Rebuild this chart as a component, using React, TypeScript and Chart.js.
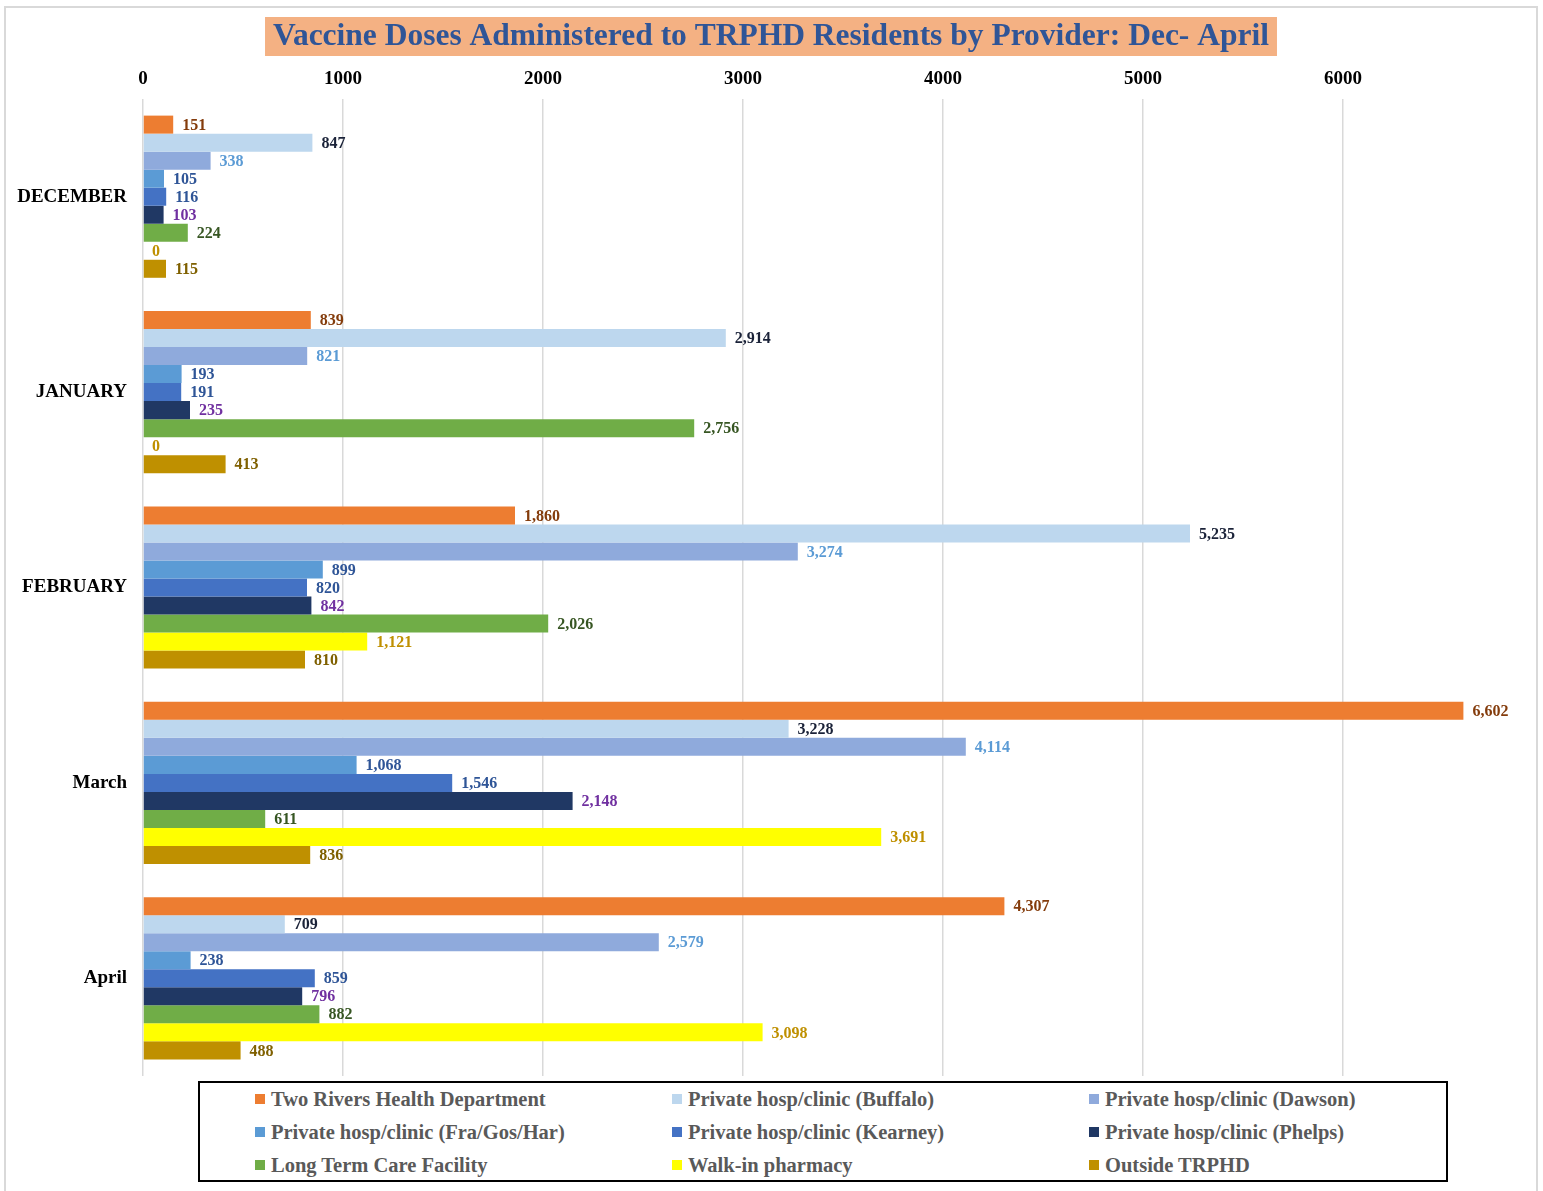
import React, { useEffect, useRef } from "react";
import { Chart, registerables } from "chart.js";

Chart.register(...registerables);

const categories = ["DECEMBER", "JANUARY", "FEBRUARY", "March", "April"];
const seriesNames = [
  "Two Rivers Health Department",
  "Private hosp/clinic (Buffalo)",
  "Private hosp/clinic (Dawson)",
  "Private hosp/clinic (Fra/Gos/Har)",
  "Private hosp/clinic (Kearney)",
  "Private hosp/clinic (Phelps)",
  "Long Term Care Facility",
  "Walk-in pharmacy",
  "Outside TRPHD",
];
const twoRivers = [151, 839, 1860, 6602, 4307];
const buffalo = [847, 2914, 5235, 3228, 709];
const dawson = [338, 821, 3274, 4114, 2579];
const fraGosHar = [105, 193, 899, 1068, 238];
const kearney = [116, 191, 820, 1546, 859];
const phelps = [103, 235, 842, 2148, 796];
const longTerm = [224, 2756, 2026, 611, 882];
const walkIn = [0, 0, 1121, 3691, 3098];
const outside = [115, 413, 810, 836, 488];
const xTicks = [0, 1000, 2000, 3000, 4000, 5000, 6000];

const seriesValues = [twoRivers, buffalo, dawson, fraGosHar, kearney, phelps, longTerm, walkIn, outside];
const barColors = ["#ED7D31", "#BDD7EE", "#8FAADC", "#5B9BD5", "#4472C4", "#203864", "#70AD47", "#FFFF00", "#BF9000"];
const labelColors = ["#843C0C", "#1A2238", "#5B9BD5", "#2F5597", "#2F5597", "#7030A0", "#375623", "#BF9000", "#7F6000"];

const TITLE = "Vaccine Doses Administered to TRPHD Residents by Provider: Dec- April";
const SERIF = "'Liberation Serif', 'DejaVu Serif', serif";

export default function App() {
  const ref = useRef<HTMLCanvasElement | null>(null);

  useEffect(() => {
    if (!ref.current) return;
    const titlePlugin = {
      id: "titleBox",
      beforeDraw(chart: any) {
        const ctx = chart.ctx;
        ctx.save();
        ctx.font = `bold 31.5px ${SERIF}`;
        const w = ctx.measureText(TITLE).width;
        const cx = 771;
        ctx.fillStyle = "#F4B183";
        ctx.fillRect(cx - w / 2 - 8, 17, w + 16, 39);
        ctx.fillStyle = "#2F5597";
        ctx.textAlign = "center";
        ctx.textBaseline = "middle";
        ctx.fillText(TITLE, cx, 37);
        ctx.restore();
      },
    };
    const labelPlugin = {
      id: "barLabels",
      afterDatasetsDraw(chart: any) {
        const ctx = chart.ctx;
        ctx.save();
        ctx.font = `bold 16px ${SERIF}`;
        ctx.textAlign = "left";
        ctx.textBaseline = "middle";
        chart.data.datasets.forEach((ds: any, i: number) => {
          const meta = chart.getDatasetMeta(i);
          meta.data.forEach((el: any, j: number) => {
            const v = ds.data[j];
            ctx.fillStyle = labelColors[i];
            ctx.fillText(Number(v).toLocaleString("en-US"), el.x + 9, el.y + 1);
          });
        });
        ctx.restore();
      },
    };
    const chart = new Chart(ref.current, {
      type: "bar",
      data: {
        labels: categories,
        datasets: seriesNames.map((name, i) => ({
          label: name,
          data: seriesValues[i],
          backgroundColor: barColors[i],
          borderWidth: 0,
          barPercentage: 1,
          categoryPercentage: 0.83,
        })),
      },
      options: {
        indexAxis: "y",
        animation: false,
        responsive: false,
        maintainAspectRatio: false,
        layout: { padding: { top: 59, right: 40, bottom: 115, left: 0 } },
        plugins: {
          legend: { display: false },
          title: { display: false },
          tooltip: { enabled: false },
        },
        scales: {
          x: {
            position: "top",
            min: 0,
            max: 6800,
            afterBuildTicks: (s: any) => {
              s.ticks = xTicks.map((v) => ({ value: v }));
            },
            afterFit: (s: any) => {
              s.height = 40;
            },
            ticks: {
              color: "#000",
              font: { family: SERIF, size: 19, weight: "bold" },
              padding: 9,
              callback: (v: any) => String(v),
            },
            grid: { color: "#D9D9D9", lineWidth: 1.5, drawTicks: false },
            border: { display: false },
          },
          y: {
            afterFit: (s: any) => {
              s.width = 143;
            },
            ticks: {
              color: "#000",
              font: { family: SERIF, size: 19, weight: "bold" },
              padding: 16,
            },
            grid: { display: false, drawTicks: false },
            border: { display: false },
          },
        },
      },
      plugins: [titlePlugin, labelPlugin],
    } as any);
    return () => chart.destroy();
  }, []);

  return (
    <div style={{ position: "absolute", left: 0, top: 0, width: 1543, height: 1191, background: "#fff", overflow: "hidden" }}>
      <div
        style={{
          position: "absolute",
          left: 4,
          top: 6,
          width: 1534,
          height: 1190,
          border: "2px solid #D9D9D9",
          boxSizing: "border-box",
        }}
      />
      <canvas ref={ref} width={1543} height={1191} style={{ position: "absolute", left: 0, top: 0, width: 1543, height: 1191 }} />
      <div
        style={{
          position: "absolute",
          left: 198,
          top: 1081,
          width: 1250,
          height: 101,
          border: "2px solid #000",
          boxSizing: "border-box",
          background: "#fff",
        }}
      >
        {seriesNames.map((name, i) => (
          <div
            key={name}
            style={{
              position: "absolute",
              left: 55 + (i % 3) * 417,
              top: 4 + Math.floor(i / 3) * 33,
              height: 24,
              display: "flex",
              alignItems: "center",
              whiteSpace: "nowrap",
              fontFamily: SERIF,
              fontWeight: "bold",
              fontSize: 20.5,
              color: "#595959",
            }}
          >
            <span style={{ display: "inline-block", width: 10, height: 10, background: barColors[i], marginRight: 6 }} />
            {name}
          </div>
        ))}
      </div>
    </div>
  );
}
